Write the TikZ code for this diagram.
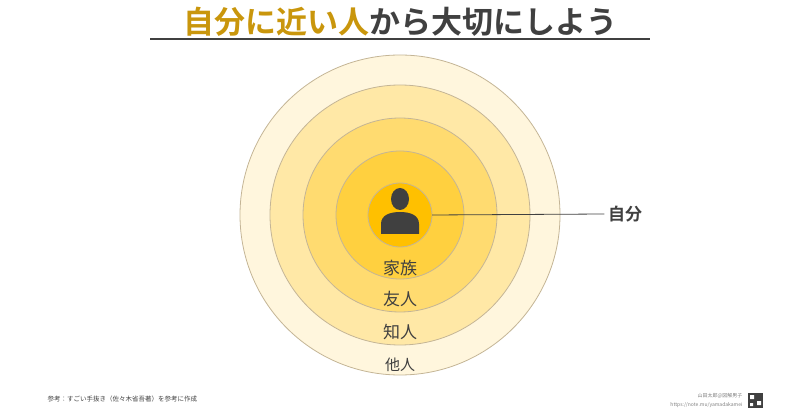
\documentclass[tikz,border=0pt]{standalone}
\usepackage{fontspec}
\newfontfamily\jp{Noto Sans CJK JP}
\newfontfamily\jpb{Noto Sans CJK JP Bold}
\usetikzlibrary{positioning}
\definecolor{ring1}{HTML}{FFF6DD}
\definecolor{ring2}{HTML}{FFE8A6}
\definecolor{ring3}{HTML}{FFDB70}
\definecolor{ring4}{HTML}{FFD03F}
\definecolor{ring5}{HTML}{FFC000}
\definecolor{rimcol}{HTML}{C4B596}
\definecolor{gold}{HTML}{C9960C}
\definecolor{ink}{HTML}{404040}
\tikzset{
  ring/.style={draw=rimcol, line width=0.8pt},
  ringlabel/.style={font=\jp\fontsize{17}{17}\selectfont, text=ink},
}
\begin{document}
\begin{tikzpicture}[x=1pt,y=-1pt]
\useasboundingbox (0,0) rectangle (800,419);
% title
\node (title) at (400,22) {\jpb\fontsize{31}{31}\selectfont\textcolor{gold}{自分に近い人}\textcolor{ink}{から大切にしよう}};
\draw[ink, line width=1.5pt] (150,39) -- (650,39);
% circles
\fill[ring1] (400,215) circle (160); \draw[ring] (400,215) circle (160);
\fill[ring2] (400,215) circle (130); \draw[ring] (400,215) circle (130);
\fill[ring3] (400,215) circle (97);  \draw[ring] (400,215) circle (97);
\fill[ring4] (400,215) circle (64);  \draw[ring] (400,215) circle (64);
\fill[ring5] (400,215) circle (32);  \draw[ring] (400,215) circle (32);
% person icon
\fill[ink] (400,199) ellipse (9 and 11);
\fill[ink] (381,234) -- (381,224) .. controls (381,215) and (390,212) .. (400,212)
  .. controls (410,212) and (419,215) .. (419,224) -- (419,234) -- cycle;
\coordinate (me) at (432,215);
\node[font=\jpb\fontsize{17}{17}\selectfont, text=ink] (self) at (625,214) {自分};
\draw[ink, line width=0.8pt] (me) -- (self.west);
% labels
\node[ringlabel] (family) at (400,268) {家族};
\node[ringlabel] (friend) at (400,299) {友人};
\node[ringlabel] (acq) at (400,332) {知人};
\node[ringlabel, font=\jp\fontsize{15}{15}\selectfont] (other) at (400,365) {他人};
% footer
\node[anchor=west, font=\jp\fontsize{6.5}{6.5}\selectfont, text=ink] (ref) at (44,399) {参考：すごい手抜き（佐々木省吾著）を参考に作成};
\node[anchor=east, font=\jp\fontsize{5}{5}\selectfont, text=gray] (author) at (746,396) {山田太郎@図解男子};
\node[anchor=east, font=\jp\fontsize{5}{5}\selectfont, text=gray] (url) at (746,405) {https://note.mu/yamadakamei};
\fill[ink] (748,393) rectangle (763,408);
\fill[white] (750,395) rectangle (754,399) (757,401) rectangle (761,405) (750,403) rectangle (753,406);
\end{tikzpicture}
\end{document}
